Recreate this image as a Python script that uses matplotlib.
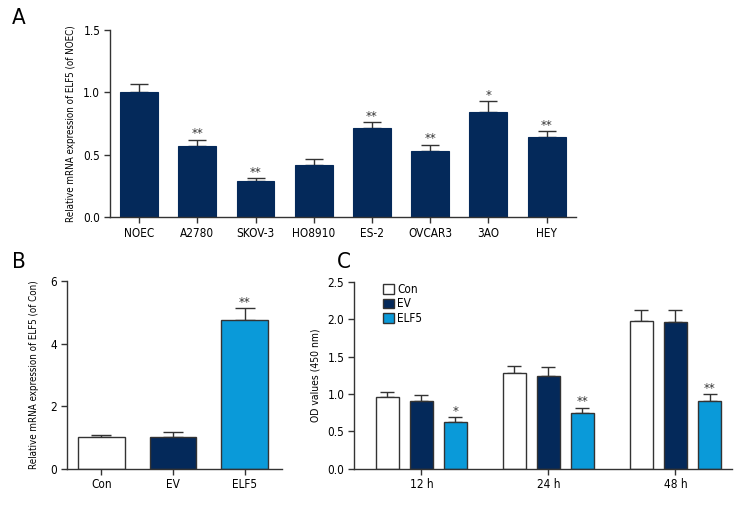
import matplotlib
matplotlib.use("Agg")
import matplotlib.pyplot as plt
import numpy as np

plt.rcParams['font.family'] = ['DejaVu Sans']
plt.rcParams['font.stretch'] = 'condensed'

navy = '#04295a'
sky = '#0a9ad9'
edge = '#333333'

# panel A
cells = ['NOEC', 'A2780', 'SKOV-3', 'HO8910', 'ES-2', 'OVCAR3', '3AO', 'HEY']
cell_vals = [1.0, 0.57, 0.29, 0.42, 0.71, 0.53, 0.845, 0.64]
cell_err = [0.07, 0.05, 0.02, 0.045, 0.05, 0.05, 0.085, 0.05]
cell_sig = ['', '**', '**', '', '**', '**', '*', '**']

# panel B
groups_b = ['Con', 'EV', 'ELF5']
mrna_vals = [1.0, 1.0, 4.75]
mrna_err = [0.08, 0.17, 0.4]
mrna_sig = ['', '', '**']

# panel C
times = ['12 h', '24 h', '48 h']
od_con = [0.954, 1.274, 1.98]
od_ev = [0.90, 1.239, 1.965]
od_elf5 = [0.628, 0.749, 0.905]
od_con_err = [0.076, 0.096, 0.145]
od_ev_err = [0.085, 0.121, 0.16]
od_elf5_err = [0.058, 0.066, 0.089]
od_elf5_sig = ['*', '**', '**']


def style(ax):
    for s in ['top', 'right']:
        ax.spines[s].set_visible(False)
    for s in ['left', 'bottom']:
        ax.spines[s].set_color(edge)
        ax.spines[s].set_linewidth(1)
    ax.tick_params(direction='out', length=4, width=1, color=edge, labelsize=8.5, pad=3)


def stars(ax, x, tops, sig, pad):
    for xi, t, s in zip(x, tops, sig):
        if s:
            ax.text(xi, t + pad, s, ha='center', va='bottom', fontsize=9.5, color='#333333')


fig = plt.figure(figsize=(7.56, 5.16), dpi=100)

# A
ax = fig.add_axes([0.1455, 0.5795, 0.616, 0.3624])
x = np.arange(len(cells))
ax.bar(x, cell_vals, width=0.65, color=navy, edgecolor=navy, linewidth=0.8, zorder=2)
ax.errorbar(x, cell_vals, yerr=[np.zeros(len(x)), cell_err], fmt='none',
            ecolor=edge, elinewidth=1, capsize=6.5, capthick=1, zorder=1)
stars(ax, x, np.array(cell_vals) + np.array(cell_err), cell_sig, -0.005)
ax.set_xlim(-0.5, 7.5)
ax.set_ylim(0, 1.5)
ax.set_yticks([0, 0.5, 1.0, 1.5])
ax.set_yticklabels(['0.0', '0.5', '1.0', '1.5'])
ax.set_xticks(x)
ax.set_xticklabels(cells)
ax.set_ylabel('Relative mRNA expression of ELF5 (of NOEC)', fontsize=7, labelpad=5)
style(ax)

# B
ax = fig.add_axes([0.0886, 0.0917, 0.2844, 0.3637])
xb = np.arange(len(groups_b))
ax.bar(xb, mrna_vals, width=0.65, color=['white', navy, sky], edgecolor=edge, linewidth=1, zorder=2)
ax.errorbar(xb, mrna_vals, yerr=[np.zeros(3), mrna_err], fmt='none',
            ecolor=edge, elinewidth=1, capsize=7.5, capthick=1, zorder=1)
stars(ax, xb, np.array(mrna_vals) + np.array(mrna_err), mrna_sig, -0.05)
ax.set_xlim(-0.48, 2.52)
ax.set_ylim(0, 6)
ax.set_yticks([0, 2, 4, 6])
ax.set_xticks(xb)
ax.set_xticklabels(groups_b)
ax.set_ylabel('Relative mRNA expression of ELF5 (of Con)', fontsize=7, labelpad=8)
style(ax)

# C
ax = fig.add_axes([0.4683, 0.0917, 0.5, 0.3623])
xc = np.arange(len(times))
off = 0.268
w = 0.18
series = [(od_con, od_con_err, 'white', 'Con'),
          (od_ev, od_ev_err, navy, 'EV'),
          (od_elf5, od_elf5_err, sky, 'ELF5')]
for i, (v, e, c, lab) in enumerate(series):
    pos = xc + (i - 1) * off
    ax.bar(pos, v, width=w, color=c, edgecolor=edge, linewidth=1, label=lab, zorder=2)
    ax.errorbar(pos, v, yerr=[np.zeros(3), e], fmt='none',
                ecolor=edge, elinewidth=1, capsize=5, capthick=1, zorder=1)
stars(ax, xc + off, np.array(od_elf5) + np.array(od_elf5_err), od_elf5_sig, -0.01)
ax.set_xlim(-0.53, 2.445)
ax.set_ylim(0, 2.5)
ax.set_yticks([0, 0.5, 1.0, 1.5, 2.0, 2.5])
ax.set_yticklabels(['0.0', '0.5', '1.0', '1.5', '2.0', '2.5'])
ax.set_xticks(xc)
ax.set_xticklabels(times)
ax.set_ylabel('OD values (450 nm)', fontsize=7.5, labelpad=5)
style(ax)
ax.legend(loc='upper left', bbox_to_anchor=(0.065, 1.02), frameon=False, fontsize=8.5,
          handlelength=0.9, handleheight=0.9, handletextpad=0.3, labelspacing=0.15,
          borderaxespad=0)

fig.text(0.016, 0.965, 'A', fontsize=16, va='center', ha='left')
fig.text(0.016, 0.492, 'B', fontsize=16, va='center', ha='left')
fig.text(0.445, 0.492, 'C', fontsize=16, va='center', ha='left')

fig.savefig('out.png', dpi=100)
